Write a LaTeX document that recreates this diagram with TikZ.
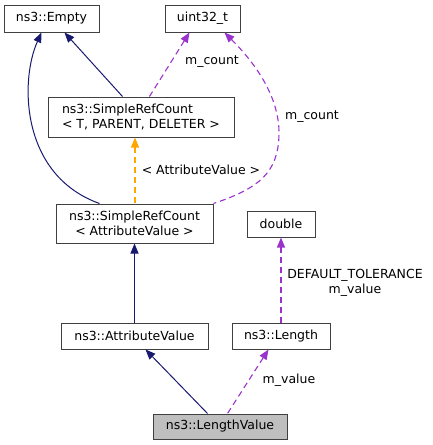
\documentclass[tikz,border=0pt]{standalone}
\usepackage{fontspec}
\setmainfont{DejaVu Sans}
\usetikzlibrary{arrows.meta}
\definecolor{navyedge}{HTML}{191970}
\definecolor{purpedge}{HTML}{9A32CD}
\definecolor{orangeedge}{HTML}{FFA500}
\definecolor{boxline}{HTML}{404040}
\definecolor{grayfill}{HTML}{BFBFBF}
\tikzset{
  cls/.style={draw=boxline, line width=1pt, inner sep=0pt, align=center, font=\fontsize{12.5}{15}\selectfont},
  lbl/.style={inner sep=0pt, align=center, text=black, font=\fontsize{12.5}{15}\selectfont},
  tip/.style={{Triangle[length=10pt,width=8pt]}-},
  inh/.style={tip, color=navyedge, line width=1pt},
  usage/.style={tip, color=purpedge, line width=1.1pt, dash pattern=on 6pt off 4pt},
  tmpl/.style={tip, color=orangeedge, line width=1.1pt, dash pattern=on 6pt off 4pt},
}
\begin{document}
\begin{tikzpicture}[x=1pt,y=-1pt]
\useasboundingbox (0,0) rectangle (432,445);
\node[cls, minimum width=95pt, minimum height=27pt] (empty) at (51.5,18.5) {ns3::Empty};
\node[cls, minimum width=75pt, minimum height=27pt] (uint) at (202.5,18.5) {uint32\_t};
\node[cls, align=left, minimum width=186pt, minimum height=40pt] (srct) at (141,117) {ns3::SimpleRefCount\\< T, PARENT, DELETER >};
\node[cls, minimum width=157pt, minimum height=39pt] (srcav) at (134.5,223.5) {ns3::SimpleRefCount\\< AttributeValue >};
\node[cls, minimum width=68pt, minimum height=26pt] (dbl) at (281,224) {double};
\node[cls, minimum width=147pt, minimum height=26pt] (av) at (134.5,336) {ns3::AttributeValue};
\node[cls, minimum width=98pt, minimum height=26pt] (len) at (281,336) {ns3::Length};
\node[cls, fill=grayfill, minimum width=134pt, minimum height=25pt] (lv) at (220,426.5) {ns3::LengthValue};

% inheritance
\draw[inh] ([xshift=38pt]empty.south west) .. controls (20,80) and (20,175) .. ([xshift=44pt]srcav.north west);
\draw[inh] ([xshift=61pt]empty.south west) -- ([xshift=75pt]srct.north west);
\draw[inh] (srcav.south) -- (av.north);
\draw[inh] ([xshift=85pt]av.south west) -- ([xshift=55pt]lv.north west);

% template
\draw[tmpl] ([xshift=-6pt]srct.south) -- ([xshift=0.5pt]srcav.north);
\node[lbl] (tl) at (201,170) {< AttributeValue >};

% usage
\draw[usage] ([xshift=25pt]uint.south west) -- ([xshift=102pt]srct.north west);
\node[lbl] (mc1) at (212,62) {m\_count};
\draw[usage] ([xshift=60pt]uint.south west) .. controls (252,60) and (280,95) .. (279,135)
   .. controls (278,172) and (260,188) .. (srcav.north east);
\node[lbl] (mc2) at (312,117) {m\_count};
\draw[usage] (dbl.south) -- (len.north);
\node[lbl] (dt) at (355,283) {DEFAULT\_TOLERANCE\\m\_value};
\draw[usage] ([xshift=37pt]len.south west) -- ([xshift=75pt]lv.north west);
\node[lbl] (mv) at (289,380) {m\_value};
\end{tikzpicture}
\end{document}
